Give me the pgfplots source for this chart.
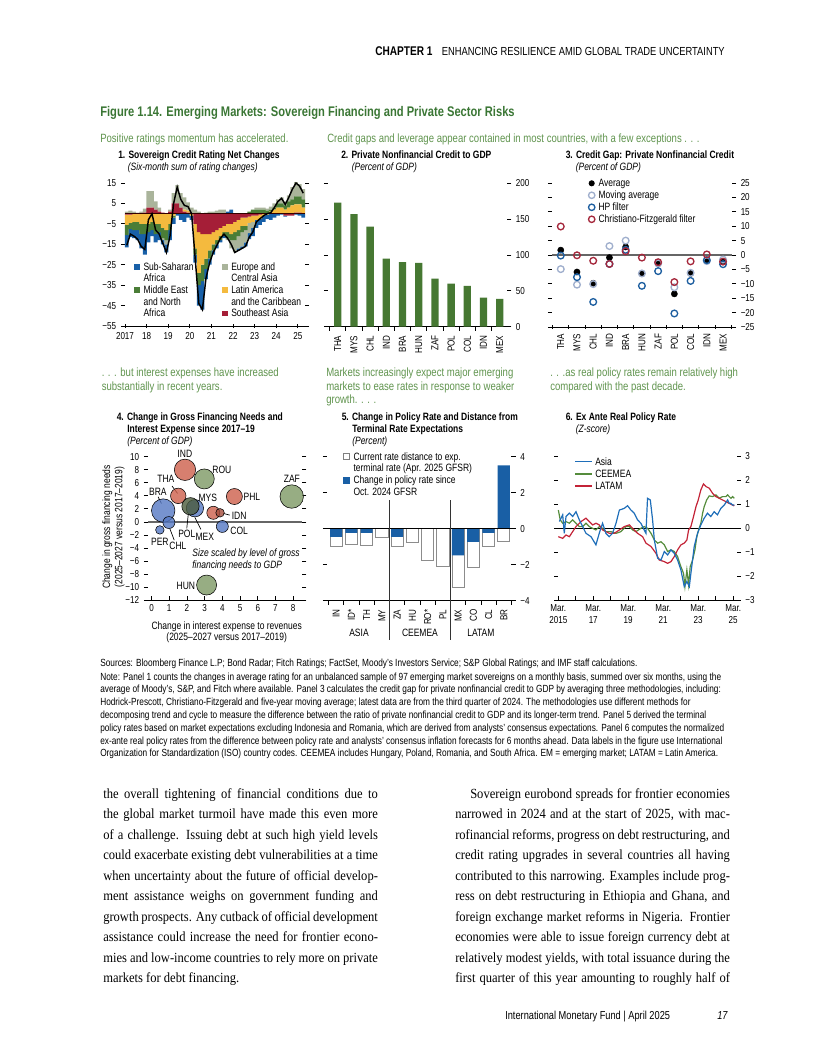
\documentclass[border=0pt]{standalone}
\usepackage{fontspec}
\setmainfont{Liberation Serif}
\newfontfamily\cond[FakeStretch=0.8]{Liberation Sans}
\newfontfamily\bodyf[FakeStretch=0.9]{Liberation Serif}
\usepackage{pgfplots}
\usepackage{pgfplotstable}
\pgfplotsset{compat=1.18}
\newcommand{\cf}[1]{\cond\fontsize{#1}{#1}\selectfont}
\newcommand{\JL}[1]{\makebox[206bp][s]{#1}}
\newcommand{\JI}[1]{\makebox[194.75bp][s]{#1}}

\definecolor{ttlgreen}{RGB}{58,118,52}
\definecolor{subgreen}{RGB}{96,148,78}
\definecolor{ssa}{RGB}{24,96,168}
\definecolor{mena}{RGB}{74,125,55}
\definecolor{eca}{RGB}{170,180,155}
\definecolor{lac}{RGB}{244,186,62}
\definecolor{sea}{RGB}{165,30,55}
\definecolor{bargreen}{RGB}{70,120,50}
\definecolor{hpblue}{RGB}{30,95,160}
\definecolor{mablue}{RGB}{160,175,205}
\definecolor{cfred}{RGB}{165,40,60}
\definecolor{bred}{RGB}{205,95,75}
\definecolor{bgreen}{RGB}{125,152,100}
\definecolor{bblue}{RGB}{85,120,195}
\definecolor{polblue}{RGB}{25,95,165}
\definecolor{asia}{RGB}{30,110,185}
\definecolor{ceemea}{RGB}{85,140,60}
\definecolor{latam}{RGB}{195,35,55}

\pgfplotsset{
  imf/.style={
    scale only axis, anchor=south west, clip=false,
    separate axis lines,
    axis x line*=bottom,
    y axis line style={draw=none},
    x axis line style={line width=0.7pt},
    tick style={black, line width=0.6pt},
    major tick length=3.2pt, minor tick length=3.2pt,
    ytick align=outside, ytick pos=both,
    tick label style={font=\cf{7.6}},
  },
  hid/.style={scale only axis, anchor=south west, clip=false, hide axis},
}

\pgfplotstableread{
t red yel grn gry blu tot
2017.083 -0.5 -5 -5 1 -6 -15.5
2017.250 -0.5 -4 -3 1.5 -4 -10
2017.417 0 -4 -4 1 -4 -11
2017.583 0 -4 -4 0.5 -5 -12.5
2017.750 0 -5 -5 1 -7 -16
2017.917 0.5 -5 -5 2 -10 -17.5
2018.083 3 -5 -4 8 -5 -3
2018.250 3 -4 -4 8 -3 0
2018.417 2 -5 -5 4 -4 -8
2018.583 1 -5 -4 2 -4 -10
2018.750 0.5 -7 -5 -1 -2 -14.5
2018.917 0 -8 -5 -2 -4 -19
2019.083 1 -5 -3 1 -5 -11
2019.250 5 -1 -1 5 -3 5
2019.417 5 0 0 9 -1 13
2019.583 3 0 0 7 -3 7
2019.750 1 1 0 6 -4 4
2019.917 0.5 1 0 4 -2 3.5
2020.083 0 -1 0 3 -2 0
2020.250 -5 -12 -3 2 -4 -22
2020.417 -9 -20 -6 1 -10 -44
2020.583 -10 -15 -8 0 -14 -47
2020.750 -10 -12 -5 0.5 -5 -31.5
2020.917 -10 -8 -4 1 -3 -24
2021.083 -9 -6 -3 1 -2 -19
2021.250 -8 -5 -2 1.5 -2 -15.5
2021.417 -7 -4 -2 2 -1 -12
2021.583 -6 -3 -2 2 -1 -10
2021.750 -5 -4 -3 -1 1 -12
2021.917 -5 -5 -3 -4 2 -15
2022.083 -4 -5 -4 -6 0 -19
2022.250 -3 -5 -3 -6 -1 -18
2022.417 -2 -4 -3 -7 -1 -17
2022.583 -2 -4 -2 -6 -2 -16
2022.750 -1.5 -3 1 -5 -3 -11.5
2022.917 -1 -3 2 -3 -4 -9
2023.083 -1 -2 2 1 -4 -4
2023.250 -0.5 -2 2 1 -3 -2.5
2023.417 0 -1 2 1 -3 -1
2023.583 0 -0.5 1.5 1 -2 0
2023.750 0 1 1 1.5 -3 0.5
2023.917 0 2 1 2 -2 3
2024.083 0 3 2 2 -1 6
2024.250 0 3 2 3 -0.5 7.5
2024.417 -1 2 2 2 -0.5 4.5
2024.583 -1 3 3 3 0 8
2024.750 -1 4 3 6 0 12
2024.917 0.5 4 4 7 -0.5 15
2025.083 0.5 4 4 6 -1 13.5
2025.250 0 3 4 5 -2 10
}\pone

\pgfplotstableread{
c avg ma hp cf
0 1.7 -4.9 -0.2 9.9
1 -5.9 -10.3 -7.7 -0.1
2 -9.8 -10.1 -16.3 -2.0
3 -0.9 3.1 -3.1 -3.1
4 2.8 5.0 1.8 1.3
5 -6.5 -6.4 -10.7 -0.9
6 -3.0 -2.9 -5.6 -2.5
7 -13.5 -11.2 -20.3 -9.4
8 -6.4 -6.2 -9.0 -2.2
9 -1.7 -2.1 -1.8 0.2
10 -2.3 -1.6 -3.2 -2.3
}\pthree

\pgfplotstableread{
c blue low
0 -0.46 -0.98
1 -0.24 -0.87
2 -0.24 -0.93
3 0 -0.50
4 -0.46 -0.98
5 0 -0.76
6 0 -1.76
7 0 -2.09
8 -1.48 -3.28
9 -0.74 -2.17
10 -0.24 -0.98
11 3.52 -0.69
}\pfive

\begin{document}
\begin{tikzpicture}
\useasboundingbox (0,0) rectangle (612bp,-792bp);

%================ Panel 1
\begin{axis}[imf, at={(93.75bp,-244.5bp)}, width=135bp, height=108bp,
  xmin=2017, xmax=2025.3333, ymin=-55, ymax=15.5,
  xtick={2017,2018,2019,2020,2021,2022,2023,2024,2025},
  xticklabels={2017,18,19,20,21,22,23,24,25}, xtick align=center,
  ytick={-55,-45,-35,-25,-15,-5,5,15},
  yticklabels={−55,−45,−35,−25,−15,−5,5,15},
  yticklabel pos=left,
  ybar stacked, bar width=0.18]
\addplot[fill=sea, draw=none] table[x=t, y expr={min(\thisrow{red},0)}]{\pone};
\addplot[fill=lac, draw=none] table[x=t, y expr={min(\thisrow{yel},0)}]{\pone};
\addplot[fill=mena, draw=none] table[x=t, y expr={min(\thisrow{grn},0)}]{\pone};
\addplot[fill=eca, draw=none] table[x=t, y expr={min(\thisrow{gry},0)}]{\pone};
\addplot[fill=ssa, draw=none] table[x=t, y expr={min(\thisrow{blu},0)}]{\pone};
\end{axis}
\begin{axis}[hid, at={(93.75bp,-244.5bp)}, width=135bp, height=108bp,
  xmin=2017, xmax=2025.3333, ymin=-55, ymax=15.5,
  ybar stacked, bar width=0.18]
\addplot[fill=sea, draw=none] table[x=t, y expr={max(\thisrow{red},0)}]{\pone};
\addplot[fill=lac, draw=none] table[x=t, y expr={max(\thisrow{yel},0)}]{\pone};
\addplot[fill=mena, draw=none] table[x=t, y expr={max(\thisrow{grn},0)}]{\pone};
\addplot[fill=eca, draw=none] table[x=t, y expr={max(\thisrow{gry},0)}]{\pone};
\addplot[fill=ssa, draw=none] table[x=t, y expr={max(\thisrow{blu},0)}]{\pone};
\end{axis}
\begin{axis}[hid, at={(93.75bp,-244.5bp)}, width=135bp, height=108bp,
  xmin=2017, xmax=2025.3333, ymin=-55, ymax=15.5]
\draw[black!80!red, line width=0.9pt] (axis cs:2017,0) -- (axis cs:2025.3333,0);
\addplot[black, line width=1.1pt, no marks] table[x=t, y=tot]{\pone};
\end{axis}

%================ Panel 2
\begin{axis}[imf, at={(246bp,-245bp)}, width=134.25bp, height=107.55bp,
  xmin=-0.6, xmax=10.45, ymin=0, ymax=200,
  xtick={0,...,10}, xticklabels={THA,MYS,CHL,IND,BRA,HUN,ZAF,POL,COL,IDN,MEX},
  xticklabel style={rotate=90, anchor=east},
  major x tick style={draw=none},
  minor xtick={-0.5,0.5,...,10.5}, xtick align=center,
  ytick={0,50,100,150,200}, yticklabels={0,50,100,150,200},
  yticklabel pos=right,
  ybar, bar width=0.45]
\addplot[fill=bargreen, draw=none] coordinates {(0,173) (1,157) (2,139.5) (3,95) (4,90) (5,89) (6,67) (7,60) (8,57) (9,40.5) (10,38.6)};
\end{axis}

%================ Panel 3
\begin{axis}[imf, at={(414bp,-245.25bp)}, width=134.85bp, height=108bp,
  xmin=-0.54, xmax=10.54, ymin=-25, ymax=25,
  xtick={0,...,10}, xticklabels={THA,MYS,CHL,IND,BRA,HUN,ZAF,POL,COL,IDN,MEX},
  xticklabel style={rotate=90, anchor=east},
  major x tick style={draw=none},
  minor xtick={-0.5,0.5,...,10.5}, xtick align=center,
  ytick={-25,-20,...,25}, yticklabels={−25,−20,−15,−10,−5,0,5,10,15,20,25},
  yticklabel pos=right]
\draw[black!60, line width=1.2pt] (axis cs:-0.54,0) -- (axis cs:10.54,0);
\addplot[only marks, mark=*, mark size=2.3bp, mark options={fill=black, draw=black}] table[x=c, y=avg]{\pthree};
\addplot[only marks, mark=o, mark size=2.5bp, mark options={draw=mablue, line width=1bp}] table[x=c, y=ma]{\pthree};
\addplot[only marks, mark=o, mark size=2.5bp, mark options={draw=hpblue, line width=1bp}] table[x=c, y=hp]{\pthree};
\addplot[only marks, mark=o, mark size=2.5bp, mark options={draw=cfred, line width=1bp}] table[x=c, y=cf]{\pthree};
\end{axis}

%================ Panel 4
\begin{axis}[imf, at={(111bp,-450bp)}, width=115.5bp, height=107.4bp,
  xmin=-0.2, xmax=8.5, ymin=-12, ymax=10,
  xtick={0,...,8}, xticklabels={0,1,2,3,4,5,6,7,8}, xtick align=inside,
  ytick={-12,-10,...,10}, yticklabels={−12,−10,−8,−6,−4,−2,0,2,4,6,8,10},
  yticklabel pos=left]
\draw[black!60, line width=1.2pt] (axis cs:-0.2,0) -- (axis cs:8.5,0);
\addplot[only marks, mark=*, mark size=8bp, mark options={fill=bred, draw=none, fill opacity=0.8}] coordinates {(1.89,8.0)};
\addplot[only marks, mark=*, mark size=7.5bp, mark options={fill=bgreen, draw=none, fill opacity=0.8}] coordinates {(2.98,6.6)};
\addplot[only marks, mark=*, mark size=5.8bp, mark options={fill=bred, draw=none, fill opacity=0.8}] coordinates {(1.51,4.0)};
\addplot[only marks, mark=*, mark size=8.8bp, mark options={fill=bblue, draw=none, fill opacity=0.8}] coordinates {(0.66,1.74)};
\addplot[only marks, mark=*, mark size=4.9bp, mark options={fill=bred, draw=none, fill opacity=0.8}] coordinates {(3.49,1.4)};
\addplot[only marks, mark=*, mark size=3.2bp, mark options={fill=bred!80!black, draw=none, fill opacity=0.8}] coordinates {(3.87,1.4)};
\addplot[only marks, mark=*, mark size=6bp, mark options={fill=bred, draw=none, fill opacity=0.8}] coordinates {(4.68,3.9)};
\addplot[only marks, mark=*, mark size=8.8bp, mark options={fill=bgreen, draw=none, fill opacity=0.8}] coordinates {(7.92,3.9)};
\addplot[only marks, mark=*, mark size=6.5bp, mark options={fill=bblue, draw=none, fill opacity=0.8}] coordinates {(2.45,2.1)};
\addplot[only marks, mark=*, mark size=6.5bp, mark options={fill=bgreen!60!black, draw=none, fill opacity=0.8}] coordinates {(2.2,2.4)};
\addplot[only marks, mark=*, mark size=4.5bp, mark options={fill=bblue, draw=none, fill opacity=0.8}] coordinates {(4.0,-0.7)};
\addplot[only marks, mark=*, mark size=4.5bp, mark options={fill=bblue, draw=none, fill opacity=0.8}] coordinates {(0.98,-0.1)};
\addplot[only marks, mark=*, mark size=3.2bp, mark options={fill=bblue, draw=none, fill opacity=0.8}] coordinates {(0.47,-1.23)};
\addplot[only marks, mark=*, mark size=7.5bp, mark options={fill=bgreen, draw=none, fill opacity=0.8}] coordinates {(3.11,-9.7)};
\begin{scope}[font=\cf{8}]
\node at (axis cs:1.88,10.4) {IND};
\node at (axis cs:3.97,7.96) {ROU};
\node at (axis cs:0.81,6.57) {THA};
\node at (axis cs:0.36,4.58) {BRA};
\node at (axis cs:3.18,3.66) {MYS};
\node at (axis cs:5.67,3.81) {PHL};
\node at (axis cs:7.93,6.57) {ZAF};
\node at (axis cs:4.95,0.89) {IDN};
\node at (axis cs:4.95,-1.41) {COL};
\node at (axis cs:1.99,-1.87) {POL};
\node at (axis cs:3.01,-2.33) {MEX};
\node at (axis cs:1.49,-3.72) {CHL};
\node at (axis cs:0.47,-3.10) {PER};
\node at (axis cs:1.94,-9.86) {HUN};
\end{scope}
\draw[black, line width=0.5pt] (axis cs:1.16,5.5) -- (axis cs:1.47,4.38);
\draw[black, line width=0.5pt] (axis cs:0.37,3.86) -- (axis cs:0.56,2.84);
\draw[black, line width=0.5pt] (axis cs:4.05,1.31) -- (axis cs:4.42,1.04);
\draw[black, line width=0.5pt] (axis cs:1.99,-1.0) -- (axis cs:2.07,1.04);
\draw[black, line width=0.5pt] (axis cs:2.79,-1.15) -- (axis cs:2.45,0.69);
\draw[black, line width=0.5pt] (axis cs:1.28,-2.8) -- (axis cs:1.03,-1.0);
\node[anchor=base west, inner sep=0pt, font=\cf{8}\itshape] at (axis cs:2.29,-5.33) {Size scaled by level of gross};
\node[anchor=base west, inner sep=0pt, font=\cf{8}\itshape] at (axis cs:2.29,-7.17) {financing needs to GDP};
\end{axis}

%================ Panel 5
\begin{axis}[imf, at={(245.25bp,-450.5bp)}, width=138.3bp, height=108bp,
  xmin=-0.6, xmax=11.5, ymin=-4, ymax=4,
  xtick={0,...,11}, xticklabels={IN,ID*,TH,MY,ZA,HU,RO*,PL,MX,CO,CL,BR},
  xticklabel style={rotate=90, anchor=east},
  major x tick style={draw=none},
  minor xtick={-0.5,0.5,...,11.5}, xtick align=center,
  ytick={-4,-2,0,2,4}, yticklabels={−4,−2,0,2,4},
  yticklabel pos=right,
  ybar, bar width=0.8]
\addplot[fill=white, draw=black!45, line width=0.6pt, bar shift=0pt] table[x=c, y=low]{\pfive};
\addplot[fill=polblue, draw=none, bar shift=0pt] table[x=c, y=blue]{\pfive};
\draw[black, line width=0.8pt] (axis cs:-0.6,0) -- (axis cs:11.5,0);
\draw[black!80, line width=0.6pt] (axis cs:3.5,1.57) -- (axis cs:3.5,-6.2);
\draw[black!80, line width=0.6pt] (axis cs:7.5,1.57) -- (axis cs:7.5,-6.2);
\node[font=\cf{8}] at (axis cs:1.5,-5.76) {ASIA};
\node[font=\cf{8}] at (axis cs:5.5,-5.76) {CEEMEA};
\node[font=\cf{8}] at (axis cs:9.5,-5.76) {LATAM};
\end{axis}

%================ Panel 6
\begin{axis}[imf, at={(418.7bp,-450.2bp)}, width=133.7bp, height=108bp,
  xmin=2015.1667, xmax=2025.36, ymin=-3, ymax=3,
  xtick={2015.1667,2017.1667,2019.1667,2021.1667,2023.1667,2025.1667},
  xticklabels={{Mar.\\2015},{Mar.\\17},{Mar.\\19},{Mar.\\21},{Mar.\\23},{Mar.\\25}},
  xticklabel style={align=center, font=\cond\fontsize{7.6}{8.8}\selectfont},
  minor xtick={2016.1667,2018.1667,2020.1667,2022.1667,2024.1667},
  xtick align=inside,
  ytick={-3,...,3}, yticklabels={−3,−2,−1,0,1,2,3},
  yticklabel pos=right]
\draw[black, line width=0.8pt] (axis cs:2015.1667,0) -- (axis cs:2025.36,0);
\addplot[ceemea, line width=0.9pt, no marks] coordinates {
(2015.17,0.76) (2015.28,0.35) (2015.42,0.21) (2015.61,0.28) (2015.80,0.21) (2015.99,0.35) (2016.18,0.21) (2016.37,0.07) (2016.56,0.07) (2016.75,0.21) (2016.94,0.07) (2017.13,0) (2017.32,-0.07) (2017.51,0.07) (2017.70,0) (2017.89,-0.14) (2018.18,-0.14) (2018.47,-0.21) (2018.75,-0.14) (2019.04,0.07) (2019.23,0.07) (2019.42,-0.07) (2019.61,-0.14) (2019.89,0) (2020.08,0.07) (2020.27,0) (2020.47,-0.21) (2020.66,-0.49) (2020.85,-0.62) (2021.04,-0.56) (2021.23,-0.69) (2021.42,-0.97) (2021.61,-0.90) (2021.80,-0.97) (2021.99,-1.18) (2022.08,-1.39) (2022.18,-1.60) (2022.33,-1.88) (2022.41,-2.43) (2022.52,-1.74) (2022.62,-2.36) (2022.71,-1.60) (2022.85,-1.32) (2022.98,-0.90) (2023.09,-0.35) (2023.19,-0.07) (2023.32,0.21) (2023.42,0.63) (2023.51,0.90) (2023.65,1.18) (2023.80,1.35) (2023.99,1.32) (2024.18,1.39) (2024.37,1.25) (2024.56,1.32) (2024.75,1.32) (2024.85,1.39) (2024.94,1.32) (2025.04,1.25) (2025.13,1.32) (2025.23,1.25)};
\addplot[latam, line width=0.9pt, no marks] coordinates {
(2015.17,-0.35) (2015.42,-0.42) (2015.61,-0.28) (2015.80,-0.35) (2015.99,-0.14) (2016.18,0.07) (2016.47,0.28) (2016.75,0.42) (2016.94,0.28) (2017.13,0.14) (2017.32,0.21) (2017.51,0.14) (2017.70,-0.07) (2017.89,-0.14) (2018.08,-0.21) (2018.37,-0.21) (2018.66,-0.07) (2018.94,0.07) (2019.23,0.14) (2019.42,0) (2019.70,-0.21) (2019.99,-0.35) (2020.18,-0.62) (2020.47,-0.76) (2020.75,-1.04) (2020.94,-1.32) (2021.23,-1.39) (2021.42,-1.46) (2021.61,-1.39) (2021.80,-1.18) (2021.99,-0.90) (2022.18,-0.69) (2022.37,-0.62) (2022.52,-0.49) (2022.62,-0.07) (2022.75,0.07) (2022.90,0.49) (2023.04,0.90) (2023.17,1.18) (2023.32,1.60) (2023.47,1.85) (2023.61,1.74) (2023.80,1.67) (2023.99,1.46) (2024.18,1.32) (2024.37,1.25) (2024.56,1.18) (2024.75,1.11) (2024.94,1.04) (2025.13,0.97) (2025.23,0.93)};
\addplot[asia, line width=0.9pt, no marks] coordinates {
(2015.23,0.28) (2015.42,0.56) (2015.51,-0.21) (2015.61,0.49) (2015.80,0.63) (2015.99,0.49) (2016.18,0.69) (2016.37,0.35) (2016.56,0.07) (2016.75,-0.21) (2017.04,-0.35) (2017.32,-0.69) (2017.51,-0.21) (2017.70,0.21) (2017.89,-0.21) (2018.08,-0.35) (2018.27,-0.21) (2018.47,0.21) (2018.66,0.76) (2018.94,0.83) (2019.13,0.94) (2019.32,0.76) (2019.51,0.63) (2019.70,0.35) (2019.89,0.21) (2020.08,-0.07) (2020.18,-0.21) (2020.27,1.25) (2020.43,1.18) (2020.56,0.35) (2020.66,-0.49) (2020.85,-1.25) (2021.04,-1.32) (2021.23,-0.97) (2021.42,-1.11) (2021.61,-0.90) (2021.80,-1.04) (2021.99,-1.32) (2022.18,-1.74) (2022.37,-2.43) (2022.52,-2.22) (2022.66,-2.43) (2022.75,-1.88) (2022.94,-0.76) (2023.13,-0.21) (2023.32,0.14) (2023.51,0.42) (2023.70,0.63) (2023.89,0.49) (2024.08,0.69) (2024.27,0.56) (2024.46,0.83) (2024.66,0.97) (2024.85,1.18) (2024.94,1.04) (2025.04,1.04) (2025.13,0.97) (2025.23,0.97)};
\end{axis}

%================ Texts (pixel coordinates)
\begin{scope}[x=0.75bp, y=-0.75bp, every node/.style={inner sep=0pt, anchor=base west}]
\node[anchor=base east] at (725,55.5) {{\cf{9.5}\bfseries CHAPTER 1}\hspace{7bp}{\cf{8.8}ENHANCING RESILIENCE AMID GLOBAL TRADE UNCERTAINTY}};
\node[font=\cf{10.5}\bfseries, text=ttlgreen] at (100,116) {Figure 1.14. Emerging Markets: Sovereign Financing and Private Sector Risks};
\node[font=\cf{9}, text=subgreen] at (100,142) {Positive ratings momentum has accelerated.};
\node[font=\cf{9}, text=subgreen] at (327,142) {Credit gaps and leverage appear contained in most countries, with a few exceptions . . .};
% panel titles
\node[font=\cf{8}\bfseries] at (118,158.5) {1. Sovereign Credit Rating Net Changes};
\node[font=\cf{8}\itshape] at (127.5,170.5) {(Six-month sum of rating changes)};
\node[font=\cf{8}\bfseries] at (341,158.5) {2. Private Nonfinancial Credit to GDP};
\node[font=\cf{8}\itshape] at (351.5,170.5) {(Percent of GDP)};
\node[font=\cf{8}\bfseries] at (565.5,158.5) {3. Credit Gap: Private Nonfinancial Credit};
\node[font=\cf{8}\itshape] at (575.5,170.5) {(Percent of GDP)};
% panel 1 legend
\fill[ssa] (134,264) rectangle (139.5,269.5);
\fill[mena] (134,287.3) rectangle (139.5,292.8);
\fill[eca] (222.3,264) rectangle (227.8,269.5);
\fill[lac] (222.3,287.3) rectangle (227.8,292.8);
\fill[sea] (222.3,310.6) rectangle (227.8,316.1);
\begin{scope}[every node/.append style={font=\cf{8}}]
\node at (143.3,270.3) {Sub-Saharan};
\node at (143.3,281.3) {Africa};
\node at (143.3,293.6) {Middle East};
\node at (143.3,305.9) {and North};
\node at (143.3,316.9) {Africa};
\node at (231,270.3) {Europe and};
\node at (231,281.3) {Central Asia};
\node at (231,293.6) {Latin America};
\node at (231,305.9) {and the Caribbean};
\node at (231,316.9) {Southeast Asia};
% panel 3 legend
\node at (598.3,186.7) {Average};
\node at (598.3,198.7) {Moving average};
\node at (598.3,210.7) {HP filter};
\node at (598.3,222.7) {Christiano-Fitzgerald filter};
\end{scope}
\fill[black] (591.7,183.3) circle (2.3bp);
\draw[mablue, line width=1bp] (591.7,195.3) circle (2.4bp);
\draw[hpblue, line width=1bp] (591.7,207.3) circle (2.4bp);
\draw[cfred, line width=1bp] (591.7,219.3) circle (2.4bp);
% panel 4 texts
\node[font=\cf{9}, text=subgreen] at (101.5,376.5) {. . . but interest expenses have increased};
\node[font=\cf{9}, text=subgreen] at (101.5,390) {substantially in recent years.};
\node[font=\cf{8}\bfseries] at (116.5,420.5) {4. Change in Gross Financing Needs and};
\node[font=\cf{8}\bfseries] at (127,432.5) {Interest Expense since 2017–19};
\node[font=\cf{8}\itshape] at (127,444.5) {(Percent of GDP)};
\node[anchor=center, rotate=90, font=\cf{8}] at (107.5,527) {Change in gross financing needs};
\node[anchor=center, rotate=90, font=\cf{8}] at (119.5,527) {(2025–2027 versus 2017–2019)};
\node[anchor=center, font=\cf{8}] at (226.7,626.5) {Change in interest expense to revenues};
\node[anchor=center, font=\cf{8}] at (226.7,637.5) {(2025–2027 versus 2017–2019)};
% panel 5 texts
\node[font=\cf{9}, text=subgreen] at (326,376.5) {Markets increasingly expect major emerging};
\node[font=\cf{9}, text=subgreen] at (326,390) {markets to ease rates in response to weaker};
\node[font=\cf{9}, text=subgreen] at (326,403.5) {growth. . . .};
\node[font=\cf{8}\bfseries] at (341.5,420.5) {5. Change in Policy Rate and Distance from};
\node[font=\cf{8}\bfseries] at (352,432.5) {Terminal Rate Expectations};
\node[font=\cf{8}\itshape] at (352,444.5) {(Percent)};
\draw[black!50, line width=0.6pt] (343.5,453.5) rectangle (349.8,459.8);
\fill[polblue] (343.2,476.8) rectangle (350.1,483.7);
\node[font=\cf{8}] at (353.3,460) {Current rate distance to exp.};
\node[font=\cf{8}] at (353.3,471.5) {terminal rate (Apr. 2025 GFSR)};
\node[font=\cf{8}] at (353.3,483.3) {Change in policy rate since};
\node[font=\cf{8}] at (353.3,495) {Oct. 2024 GFSR};
% panel 6 texts
\node[font=\cf{9}, text=subgreen] at (550,376.5) {. . .as real policy rates remain relatively high};
\node[font=\cf{9}, text=subgreen] at (550,390) {compared with the past decade.};
\node[font=\cf{8}\bfseries] at (565.5,420.5) {6. Ex Ante Real Policy Rate};
\node[font=\cf{8}\itshape] at (575.5,432.5) {(Z-score)};
\draw[asia, line width=1pt] (575,461.7) -- (592,461.7);
\draw[ceemea, line width=1pt] (575,474) -- (592,474);
\draw[latam, line width=1pt] (575,486) -- (592,486);
\node[font=\cf{8}] at (595,465) {Asia};
\node[font=\cf{8}] at (595,477.3) {CEEMEA};
\node[font=\cf{8}] at (595,489.3) {LATAM};
% sources and notes
\begin{scope}[every node/.append style={font=\cf{7.8}}]
\node at (100,666) {Sources: Bloomberg Finance L.P; Bond Radar; Fitch Ratings; FactSet, Moody’s Investors Service; S\&P Global Ratings; and IMF staff calculations.};
\node at (100,680) {Note: Panel 1 counts the changes in average rating for an unbalanced sample of 97 emerging market sovereigns on a monthly basis, summed over six months, using the};
\node at (100,692.8) {average of Moody’s, S\&P, and Fitch where available. Panel 3 calculates the credit gap for private nonfinancial credit to GDP by averaging three methodologies, including:};
\node at (100,705.6) {Hodrick-Prescott, Christiano-Fitzgerald and five-year moving average; latest data are from the third quarter of 2024. The methodologies use different methods for};
\node at (100,718.4) {decomposing trend and cycle to measure the difference between the ratio of private nonfinancial credit to GDP and its longer-term trend. Panel 5 derived the terminal};
\node at (100,731.2) {policy rates based on market expectations excluding Indonesia and Romania, which are derived from analysts’ consensus expectations. Panel 6 computes the normalized};
\node at (100,744) {ex-ante real policy rates from the difference between policy rate and analysts’ consensus inflation forecasts for 6 months ahead. Data labels in the figure use International};
\node at (100,756.8) {Organization for Standardization (ISO) country codes. CEEMEA includes Hungary, Poland, Romania, and South Africa. EM = emerging market; LATAM = Latin America.};
\end{scope}
% body text
\begin{scope}[every node/.append style={font=\bodyf\fontsize{10.5}{12}\selectfont}]
\node at (103,798.5) {\JL{the overall tightening of financial conditions due to}};
\node at (103,818.95) {\JL{the global market turmoil have made this even more}};
\node at (103,839.4) {\JL{of a challenge. Issuing debt at such high yield levels}};
\node at (103,859.85) {\JL{could exacerbate existing debt vulnerabilities at a time}};
\node at (103,880.3) {\JL{when uncertainty about the future of official develop-}};
\node at (103,900.75) {\JL{ment assistance weighs on government funding and}};
\node at (103,921.2) {\JL{growth prospects. Any cutback of official development}};
\node at (103,941.65) {\JL{assistance could increase the need for frontier econo-}};
\node at (103,962.1) {\JL{mies and low-income countries to rely more on private}};
\node at (103,982.55) {markets for debt financing.};
\node at (470,798.5) {\JI{Sovereign eurobond spreads for frontier economies}};
\node at (455,818.95) {\JL{narrowed in 2024 and at the start of 2025, with mac-}};
\node at (455,839.4) {\JL{rofinancial reforms, progress on debt restructuring, and}};
\node at (455,859.85) {\JL{credit rating upgrades in several countries all having}};
\node at (455,880.3) {\JL{contributed to this narrowing. Examples include prog-}};
\node at (455,900.75) {\JL{ress on debt restructuring in Ethiopia and Ghana, and}};
\node at (455,921.2) {\JL{foreign exchange market reforms in Nigeria. Frontier}};
\node at (455,941.65) {\JL{economies were able to issue foreign currency debt at}};
\node at (455,962.1) {\JL{relatively modest yields, with total issuance during the}};
\node at (455,982.55) {\JL{first quarter of this year amounting to roughly half of}};
\end{scope}
\node[font=\cf{8.7}] at (505,1019.5) {International Monetary Fund | April 2025};
\node[font=\cf{8.7}\itshape] at (717,1019.5) {17};
\end{scope}
\end{tikzpicture}
\end{document}
